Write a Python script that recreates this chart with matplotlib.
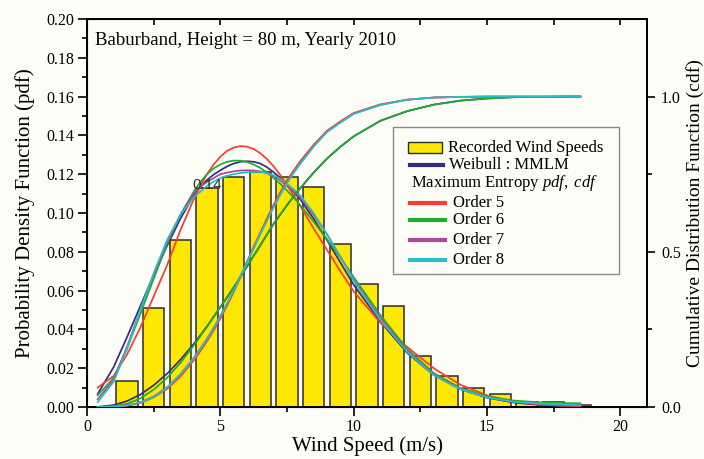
import matplotlib.pyplot as plt
from matplotlib.patches import Rectangle
from matplotlib.lines import Line2D
from matplotlib.ticker import MultipleLocator

plt.rcParams['font.family'] = ['Liberation Serif', 'DejaVu Serif']
plt.rcParams['mathtext.fontset'] = 'custom'
plt.rcParams['mathtext.rm'] = 'Liberation Serif'
plt.rcParams['mathtext.it'] = 'Liberation Serif:italic'

# histogram of recorded wind speeds (bin centres, relative frequency)
bin_centers = [1.5, 2.5, 3.5, 4.5, 5.5, 6.5, 7.5, 8.5, 9.5, 10.5, 11.5, 12.5,
               13.5, 14.5, 15.5, 16.5, 17.5, 18.5]
bin_freq = [0.0135, 0.0509, 0.0862, 0.1130, 0.1184, 0.1213, 0.1184, 0.1136,
            0.0839, 0.0632, 0.0521, 0.0263, 0.0160, 0.0096, 0.0065, 0.0026,
            0.0024, 0.0012]

# wind speed grid for the fitted curves
ws = [0.4, 1.0, 1.5, 2.0, 2.5, 3.0, 3.5,
      4.0, 4.25, 4.5, 4.75, 5.0, 5.25, 5.5, 5.75, 6.0, 6.25, 6.5, 6.75,
      7.0, 7.25, 7.5, 7.75, 8.0,
      8.5, 9.0, 9.5, 10.0, 11.0, 12.0, 13.0, 14.0, 15.0, 16.0, 17.0, 18.0, 18.5]

# pdf values
pdf_weibull = [0.0067, 0.0206, 0.036, 0.052, 0.068, 0.083, 0.097,
               0.109, 0.1135, 0.117, 0.1198, 0.122, 0.124, 0.1255, 0.1264,
               0.1267, 0.1264, 0.1255, 0.1236, 0.121, 0.118, 0.1145, 0.111,
               0.107, 0.097, 0.086, 0.0745, 0.063, 0.044, 0.028, 0.0165,
               0.0092, 0.0048, 0.0023, 0.0010, 0.0004, 0.0003]
pdf_o5 = [0.0100, 0.0160, 0.027, 0.041, 0.057, 0.073, 0.091,
          0.107, 0.114, 0.120, 0.125, 0.129, 0.132, 0.1337, 0.1345,
          0.1342, 0.1330, 0.1308, 0.1278, 0.1240, 0.1195, 0.1145, 0.109,
          0.1035, 0.092, 0.081, 0.070, 0.0595, 0.0435, 0.031, 0.020,
          0.0115, 0.006, 0.0027, 0.0012, 0.0006, 0.0005]
pdf_o6 = [0.0060, 0.015, 0.030, 0.048, 0.066, 0.084, 0.099,
          0.111, 0.116, 0.120, 0.123, 0.125, 0.1264, 0.1270, 0.1270,
          0.1263, 0.125, 0.1232, 0.1208, 0.118, 0.115, 0.1115, 0.108,
          0.104, 0.0955, 0.0865, 0.0770, 0.0670, 0.0474, 0.030, 0.0175,
          0.0098, 0.0055, 0.0033, 0.0024, 0.0020, 0.0019]
pdf_o7 = [0.0040, 0.014, 0.031, 0.050, 0.068, 0.085, 0.099,
          0.110, 0.1135, 0.116, 0.118, 0.120, 0.1208, 0.1215, 0.1219,
          0.1220, 0.1219, 0.1215, 0.1205, 0.119, 0.1168, 0.114, 0.111,
          0.108, 0.099, 0.089, 0.0775, 0.0655, 0.046, 0.029, 0.017,
          0.0093, 0.0049, 0.0026, 0.0016, 0.0008, 0.0006]
pdf_o8 = [0.0025, 0.013, 0.030, 0.050, 0.069, 0.086, 0.099,
          0.108, 0.111, 0.114, 0.1162, 0.118, 0.1192, 0.1200, 0.1206,
          0.1210, 0.1212, 0.1213, 0.1206, 0.1195, 0.1175, 0.115, 0.1122,
          0.109, 0.100, 0.089, 0.0775, 0.065, 0.045, 0.0285, 0.0165,
          0.0092, 0.0050, 0.0027, 0.0017, 0.0012, 0.0010]

# cdf values
cdf_weibull = [0.0005, 0.006, 0.019, 0.040, 0.070, 0.107, 0.152,
               0.203, 0.231, 0.260, 0.291, 0.322, 0.353, 0.385, 0.418,
               0.452, 0.487, 0.521, 0.556, 0.590, 0.620, 0.650, 0.678,
               0.705, 0.755, 0.800, 0.838, 0.872, 0.922, 0.953, 0.974,
               0.987, 0.994, 0.998, 0.999, 1.000, 1.000]
cdf_o6 = [0.0002, 0.002, 0.010, 0.028, 0.056, 0.094, 0.142,
          0.198, 0.228, 0.258, 0.290, 0.322, 0.354, 0.386, 0.419,
          0.453, 0.488, 0.522, 0.557, 0.591, 0.621, 0.651, 0.679,
          0.706, 0.756, 0.801, 0.839, 0.872, 0.922, 0.953, 0.974,
          0.987, 0.994, 0.998, 0.999, 1.000, 1.000]
cdf_o5 = [0.0000, 0.001, 0.004, 0.013, 0.031, 0.058, 0.098,
          0.150, 0.180, 0.212, 0.247, 0.285, 0.326, 0.370, 0.418,
          0.468, 0.516, 0.562, 0.608, 0.652, 0.692, 0.730, 0.762,
          0.792, 0.845, 0.890, 0.920, 0.947, 0.975, 0.990, 0.997,
          0.999, 1.000, 1.000, 1.000, 1.000, 1.000]
cdf_o7 = [0.0000, 0.001, 0.005, 0.015, 0.034, 0.063, 0.105,
          0.158, 0.188, 0.220, 0.255, 0.293, 0.333, 0.376, 0.421,
          0.466, 0.512, 0.558, 0.602, 0.645, 0.685, 0.722, 0.755,
          0.785, 0.840, 0.887, 0.917, 0.945, 0.973, 0.990, 0.997,
          0.999, 1.000, 1.000, 1.000, 1.000, 1.000]
cdf_o8 = [0.0000, 0.001, 0.005, 0.015, 0.032, 0.062, 0.104,
          0.157, 0.187, 0.219, 0.254, 0.292, 0.332, 0.375, 0.420,
          0.465, 0.511, 0.557, 0.601, 0.644, 0.684, 0.721, 0.754,
          0.784, 0.839, 0.886, 0.916, 0.944, 0.973, 0.990, 0.997,
          0.999, 1.000, 1.000, 1.000, 1.000, 1.000]

c_weib = '#3b2a82'
c_o5 = '#ff3a2e'
c_o6 = '#1fae2c'
c_o7 = '#b2459c'
c_o8 = '#27c0c6'
bg = '#fdfdf7'

fig = plt.figure(figsize=(7.04, 4.59), dpi=100, facecolor=bg)
ax = fig.add_axes([87 / 704, 1 - 407 / 459, 560 / 704, 388 / 459])
ax.set_facecolor(bg)

ax.bar(bin_centers, bin_freq, width=0.8, color='#ffe800', edgecolor='#2b2b2b',
       linewidth=1.1, zorder=1)

lw = 1.25
ax.plot(ws, pdf_weibull, color=c_weib, lw=lw, zorder=3)
ax.plot(ws, pdf_o5, color=c_o5, lw=lw, zorder=3)
ax.plot(ws, pdf_o6, color=c_o6, lw=lw, zorder=3)
ax.plot(ws, pdf_o7, color=c_o7, lw=lw, zorder=3)
ax.plot(ws, pdf_o8, color=c_o8, lw=lw, zorder=3)

ax.set_xlim(0, 21)
ax.set_ylim(0, 0.2)
ax.xaxis.set_major_locator(MultipleLocator(5))
ax.xaxis.set_minor_locator(MultipleLocator(2.5))
ax.yaxis.set_major_locator(MultipleLocator(0.02))
ax.yaxis.set_minor_locator(MultipleLocator(0.01))
ax.yaxis.set_major_formatter(plt.FormatStrFormatter('%.2f'))
ax.tick_params(which='major', direction='out', length=6.5, width=1.2,
               labelsize=11.5, pad=3)
ax.tick_params(which='minor', direction='out', length=3.6, width=1.2)
ax.tick_params(axis='x', which='major', pad=2)
for s in ['left', 'bottom', 'top', 'right']:
    ax.spines[s].set_linewidth(1.4)

top = ax.secondary_xaxis('top')
top.xaxis.set_major_locator(MultipleLocator(2.5))
top.tick_params(direction='in', length=4.5, width=1.2, labeltop=False)
top.spines['top'].set_linewidth(1.4)

ax.set_xlabel('Wind Speed (m/s)', fontsize=15, labelpad=1)
ax.set_ylabel('Probability Density Function (pdf)', fontsize=15, labelpad=8)

ax.text(3.94, 0.1144, '0.14', fontsize=11, color='#333333',
        family=['Liberation Sans', 'DejaVu Sans'], va='center', ha='left', zorder=4)
ax.text(0.0143, 0.944, 'Baburband, Height = 80 m, Yearly 2010',
        transform=ax.transAxes, fontsize=13.5, va='center', ha='left')

ax2 = ax.twinx()
ax2.set_ylim(0, 1.25)
ax2.plot(ws, cdf_weibull, color=c_weib, lw=lw, zorder=3)
ax2.plot(ws, cdf_o6, color=c_o6, lw=lw, zorder=3)
ax2.plot(ws, cdf_o5, color=c_o5, lw=lw, zorder=3)
ax2.plot(ws, cdf_o7, color=c_o7, lw=lw, zorder=3)
ax2.plot(ws, cdf_o8, color=c_o8, lw=lw, zorder=3)
ax2.yaxis.set_major_locator(plt.FixedLocator([0.0, 0.5, 1.0]))
ax2.yaxis.set_minor_locator(plt.FixedLocator([0.25, 0.75]))
ax2.yaxis.set_major_formatter(plt.FormatStrFormatter('%.1f'))
ax2.tick_params(which='major', direction='out', length=6, width=1.2,
                labelsize=11.5, pad=4)
ax2.tick_params(which='minor', direction='out', length=3.6, width=1.2)
ax2.spines['right'].set_linewidth(1.4)
ax2.set_ylabel('Cumulative Distribution Function (cdf)', fontsize=14,
               labelpad=4)

# legend box drawn in axes fraction
T = ax2.transAxes
ax2.add_patch(Rectangle((0.546, 0.343), 0.404, 0.379, transform=T,
                        facecolor=bg, edgecolor='#8a8a8a', lw=1.0, zorder=5))
ax2.add_patch(Rectangle((0.5727, 0.6683 - 0.0138), 0.0607, 0.0276, transform=T,
                        facecolor='#ffe800', edgecolor='#2b2b2b', lw=1.0, zorder=6))
ax2.text(0.6452, 0.6683, 'Recorded Wind Speeds', transform=T, fontsize=12,
         va='center', ha='left', zorder=6)
ax2.add_line(Line2D([0.5768, 0.6357], [0.6237, 0.6237], transform=T,
                    color=c_weib, lw=3, zorder=6))
ax2.text(0.6464, 0.6237, 'Weibull : MMLM', transform=T, fontsize=12,
         va='center', ha='left', zorder=6)
ax2.text(0.5786, 0.578, r'Maximum Entropy $pdf,\ cdf$', transform=T, fontsize=12,
         va='center', ha='left', zorder=6)
leg_rows = [('Order 5', c_o5, 0.525), ('Order 6', c_o6, 0.482),
            ('Order 7', c_o7, 0.4304), ('Order 8', c_o8, 0.3789)]
for name, col, yc in leg_rows:
    ax2.add_line(Line2D([0.5768, 0.6393], [yc, yc], transform=T, color=col,
                        lw=3, zorder=6))
    ax2.text(0.653, yc, name, transform=T, fontsize=12, va='center',
             ha='left', zorder=6)

fig.savefig('out.png', dpi=100, facecolor=bg)
